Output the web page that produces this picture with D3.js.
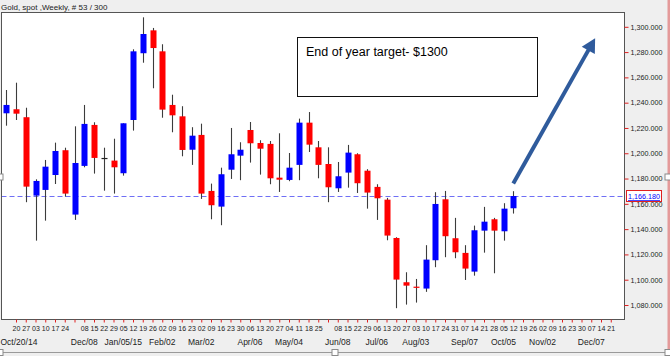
<!DOCTYPE html>
<html><head><meta charset="utf-8">
<script src="https://cdn.jsdelivr.net/npm/d3@7"></script>
<style>html,body{margin:0;padding:0;background:#efefef;overflow:hidden}</style>
</head><body>
<svg id="c" width="670" height="356"></svg>
<script>
// ---------- data ----------
const title = "Gold, spot ,Weekly, # 53 / 300";
// weekly slots, slot 0 = Oct 13 2014 ... slot 62 = Dec 21 2015
const weekDays = ["","20","27","03","10","17","24","","08","15","22","29","05","12","19","26",
  "02","09","16","23","02","09","16","23","30","06","13","20","27","04","11","18","25","",
  "08","15","22","29","06","13","20","27","03","10","17","24","31","07","14","21","28",
  "05","12","19","26","02","09","16","23","30","07","14","21"];
const monthLabels = ["Oct/20/14","Dec/08","Jan/05/15","Feb/02","Mar/02","Apr/06","May/04",
  "Jun/08","Jul/06","Aug/03","Sep/07","Oct/05","Nov/02","Dec/07"];
const monthSlots = [1,8,12,16,20,25,29,34,38,42,47,51,55,60];
const open  = [1231.6,1234.8,1228.5,1166.5,1171.0,1182.8,1202.4,1151.5,1190.0,1222.4,1196.3,1194.2,1184.2,1226.3,1279.1,1297.2,1280.6,1238.2,1229.2,1202.8,1214.5,1170.2,1157.8,1187.0,1198.1,1218.4,1208.1,1207.4,1180.7,1178.9,1190.8,1224.2,1204.7,1191.5,1172.3,1184.7,1199.2,1186.2,1173.4,1163.3,1133.0,1098.0,1094.5,1093.0,1115.4,1163.6,1132.8,1121.2,1106.4,1138.8,1147.8,1138.3,1156.5];
const high  = [1250.0,1255.8,1236.0,1179.4,1194.7,1208.4,1204.4,1221.3,1238.2,1224.5,1204.4,1211.5,1223.7,1282.2,1307.5,1299.1,1286.2,1246.3,1237.2,1220.6,1223.4,1176.0,1188.6,1220.0,1208.7,1224.7,1210.3,1209.7,1215.8,1200.2,1227.4,1232.6,1209.7,1204.7,1193.1,1206.6,1200.0,1187.4,1175.5,1164.7,1133.6,1105.9,1100.6,1127.3,1169.2,1170.2,1148.9,1127.3,1142.8,1157.6,1148.9,1160.5,1170.0];
const low   = [1221.8,1226.3,1161.3,1130.9,1146.7,1175.7,1165.7,1147.3,1188.9,1183.9,1170.4,1168.1,1182.3,1217.9,1271.6,1251.4,1228.1,1216.6,1197.6,1190.8,1163.9,1147.8,1143.1,1179.7,1178.7,1192.6,1183.1,1175.5,1169.4,1177.9,1178.7,1201.0,1180.2,1161.3,1169.4,1172.8,1168.6,1156.2,1147.3,1131.2,1077.5,1080.3,1081.9,1090.4,1109.9,1117.8,1117.0,1099.8,1103.2,1121.4,1105.1,1130.9,1152.3];
const close = [1238.2,1231.3,1173.6,1178.1,1189.4,1201.8,1168.1,1192.3,1223.2,1196.3,1196.3,1188.9,1223.7,1280.6,1294.3,1283.2,1234.5,1230.0,1202.6,1213.9,1168.1,1158.9,1183.4,1199.2,1202.8,1207.9,1203.6,1180.2,1179.1,1188.6,1224.2,1206.8,1190.8,1173.1,1181.8,1200.5,1176.3,1168.9,1164.4,1134.9,1100.1,1095.3,1094.1,1115.9,1159.9,1134.4,1121.7,1108.8,1139.1,1145.9,1138.8,1156.2,1166.18];
const yTicks = [1080,1100,1120,1140,1160,1180,1200,1220,1240,1260,1280,1300];
const lastPrice = 1166.18;
const note = "End of year target- $1300";
const arrowFrom = [52, 1176];   // [slot, price]
const arrowTo   = [60.4, 1291];

// ---------- layout ----------
const svg = d3.select("#c");
const W = 670, H = 356;
const P = {left:1.5, top:12.5, right:624.5, bottom:319.5};
const x = d3.scaleLinear().domain([0, 62]).range([6.25, 610.75]);
const y = d3.scaleLinear().domain([1080, 1300]).range([305, 26.8]);
const FONT = "'Liberation Sans', Arial, sans-serif";

svg.append("rect").attr("width", W).attr("height", H).attr("fill", "#efefef");

// title
svg.append("text").attr("x", 1).attr("y", 9.5).attr("font-family", FONT)
  .attr("font-size", "8px").attr("fill", "#222").text(title);

// plot frame
svg.append("rect").attr("x", P.left).attr("y", P.top)
  .attr("width", P.right - P.left).attr("height", P.bottom - P.top)
  .attr("fill", "#fff").attr("stroke", "#555").attr("stroke-width", 1);

svg.append("clipPath").attr("id", "pc").append("rect")
  .attr("x", P.left + 0.5).attr("y", P.top + 0.5)
  .attr("width", P.right - P.left - 1).attr("height", P.bottom - P.top - 1);
const g = svg.append("g").attr("clip-path", "url(#pc)");

// current price dashed line
g.append("line").attr("x1", P.left).attr("x2", P.right)
  .attr("y1", Math.round(y(lastPrice)) + 0.5).attr("y2", Math.round(y(lastPrice)) + 0.5)
  .attr("stroke", "#6f6ff5").attr("stroke-width", 1).attr("stroke-dasharray", "5,3");

// candles
const candles = open.map((o, i) => ({i, o, h: high[i], l: low[i], c: close[i]}));
const cg = g.selectAll("g.cd").data(candles).join("g").attr("class", "cd");
cg.append("line")
  .attr("x1", d => Math.round(x(d.i)) + 0.5).attr("x2", d => Math.round(x(d.i)) + 0.5)
  .attr("y1", d => y(d.h)).attr("y2", d => y(d.l))
  .attr("stroke", "#3c3c3c").attr("stroke-width", 1.1);
cg.append("rect")
  .attr("x", d => Math.round(x(d.i)) - 2.5)
  .attr("width", 6)
  .attr("y", d => y(Math.max(d.o, d.c)))
  .attr("height", d => Math.max(1.2, Math.abs(y(d.o) - y(d.c))))
  .attr("fill", d => d.c > d.o ? "#0000ff" : (d.c < d.o ? "#ff0000" : "#222"));

// y axis
const ya = svg.append("g").attr("transform", `translate(${P.right},0)`)
  .call(d3.axisRight(y).tickValues(yTicks).tickSize(4).tickPadding(2)
    .tickFormat(d3.format(",.3f")));
ya.select(".domain").remove();
ya.selectAll(".tick line").attr("stroke", "#e02020");
ya.selectAll(".tick text").attr("font-family", FONT).attr("font-size", "7.2px")
  .attr("fill", "#222");

// current price label
const py = y(lastPrice);
svg.append("rect").attr("x", 626.5).attr("y", Math.round(py) - 5.5)
  .attr("width", 35).attr("height", 11).attr("fill", "#fff").attr("stroke", "#e02020");
svg.append("text").attr("x", 644).attr("y", Math.round(py) + 3)
  .attr("text-anchor", "middle").attr("font-family", FONT).attr("font-size", "7.2px")
  .attr("fill", "#0000ff").attr("text-decoration", "underline")
  .text(d3.format(",.3f")(lastPrice));

// x axis (weekly days)
const slots = d3.range(1, weekDays.length);
const xa = svg.append("g").attr("transform", `translate(0,${P.bottom})`)
  .call(d3.axisBottom(x).tickValues(slots).tickSize(3).tickPadding(4)
    .tickFormat(i => weekDays[i]));
xa.select(".domain").remove();
xa.selectAll(".tick line").attr("stroke", "#e02020");
xa.selectAll(".tick text").attr("font-family", FONT).attr("font-size", "7px")
  .attr("fill", "#222");

// month labels (first one pinned to the left edge so it stays visible)
svg.append("g").selectAll("text").data(monthLabels).join("text")
  .attr("x", (d, k) => k === 0 ? 0.5 : x(monthSlots[k])).attr("y", 345)
  .attr("text-anchor", (d, k) => k === 0 ? "start" : "middle")
  .attr("font-family", FONT).attr("font-size", "8.5px")
  .attr("fill", "#222").text(d => d);

// annotation box
svg.append("rect").attr("x", 297.5).attr("y", 37.5).attr("width", 240).attr("height", 59)
  .attr("fill", "#fff").attr("stroke", "#111").attr("stroke-width", 1);
svg.append("text").attr("x", 306).attr("y", 55.5).attr("font-family", FONT)
  .attr("font-size", "12.5px").attr("fill", "#000").text(note);

// arrow
const ax0 = x(arrowFrom[0]), ay0 = y(arrowFrom[1]);
const ax1 = x(arrowTo[0]), ay1 = y(arrowTo[1]);
const len = Math.hypot(ax1 - ax0, ay1 - ay0);
const ux = (ax1 - ax0) / len, uy = (ay1 - ay0) / len;
const hl = 14, hw = 7.5;
const bx = ax1 - hl * ux, by = ay1 - hl * uy;
svg.append("line").attr("x1", ax0).attr("y1", ay0).attr("x2", bx + ux * 2).attr("y2", by + uy * 2)
  .attr("stroke", "#2f5b9c").attr("stroke-width", 4);
svg.append("path")
  .attr("d", `M${ax1},${ay1}L${bx - uy * hw},${by + ux * hw}L${bx + uy * hw},${by - ux * hw}Z`)
  .attr("fill", "#2f5b9c");

// document frame: right pink strip, bottom line, handles
svg.append("rect").attr("x", 667.5).attr("y", 0).attr("width", 3).attr("height", 352)
  .attr("fill", "#e49a9a");
svg.append("line").attr("x1", 0).attr("x2", W).attr("y1", 352.5).attr("y2", 352.5)
  .attr("stroke", "#9a9a9a");
const handles = [[0, 177], [0, 352.5], [335, 352.5], [668, 352.5], [668, 177]];
svg.append("g").selectAll("rect").data(handles).join("rect")
  .attr("x", d => d[0] - 3).attr("y", d => d[1] - 3).attr("width", 6).attr("height", 6)
  .attr("fill", "#fff").attr("stroke", "#8a8a8a");
</script>
</body></html>
